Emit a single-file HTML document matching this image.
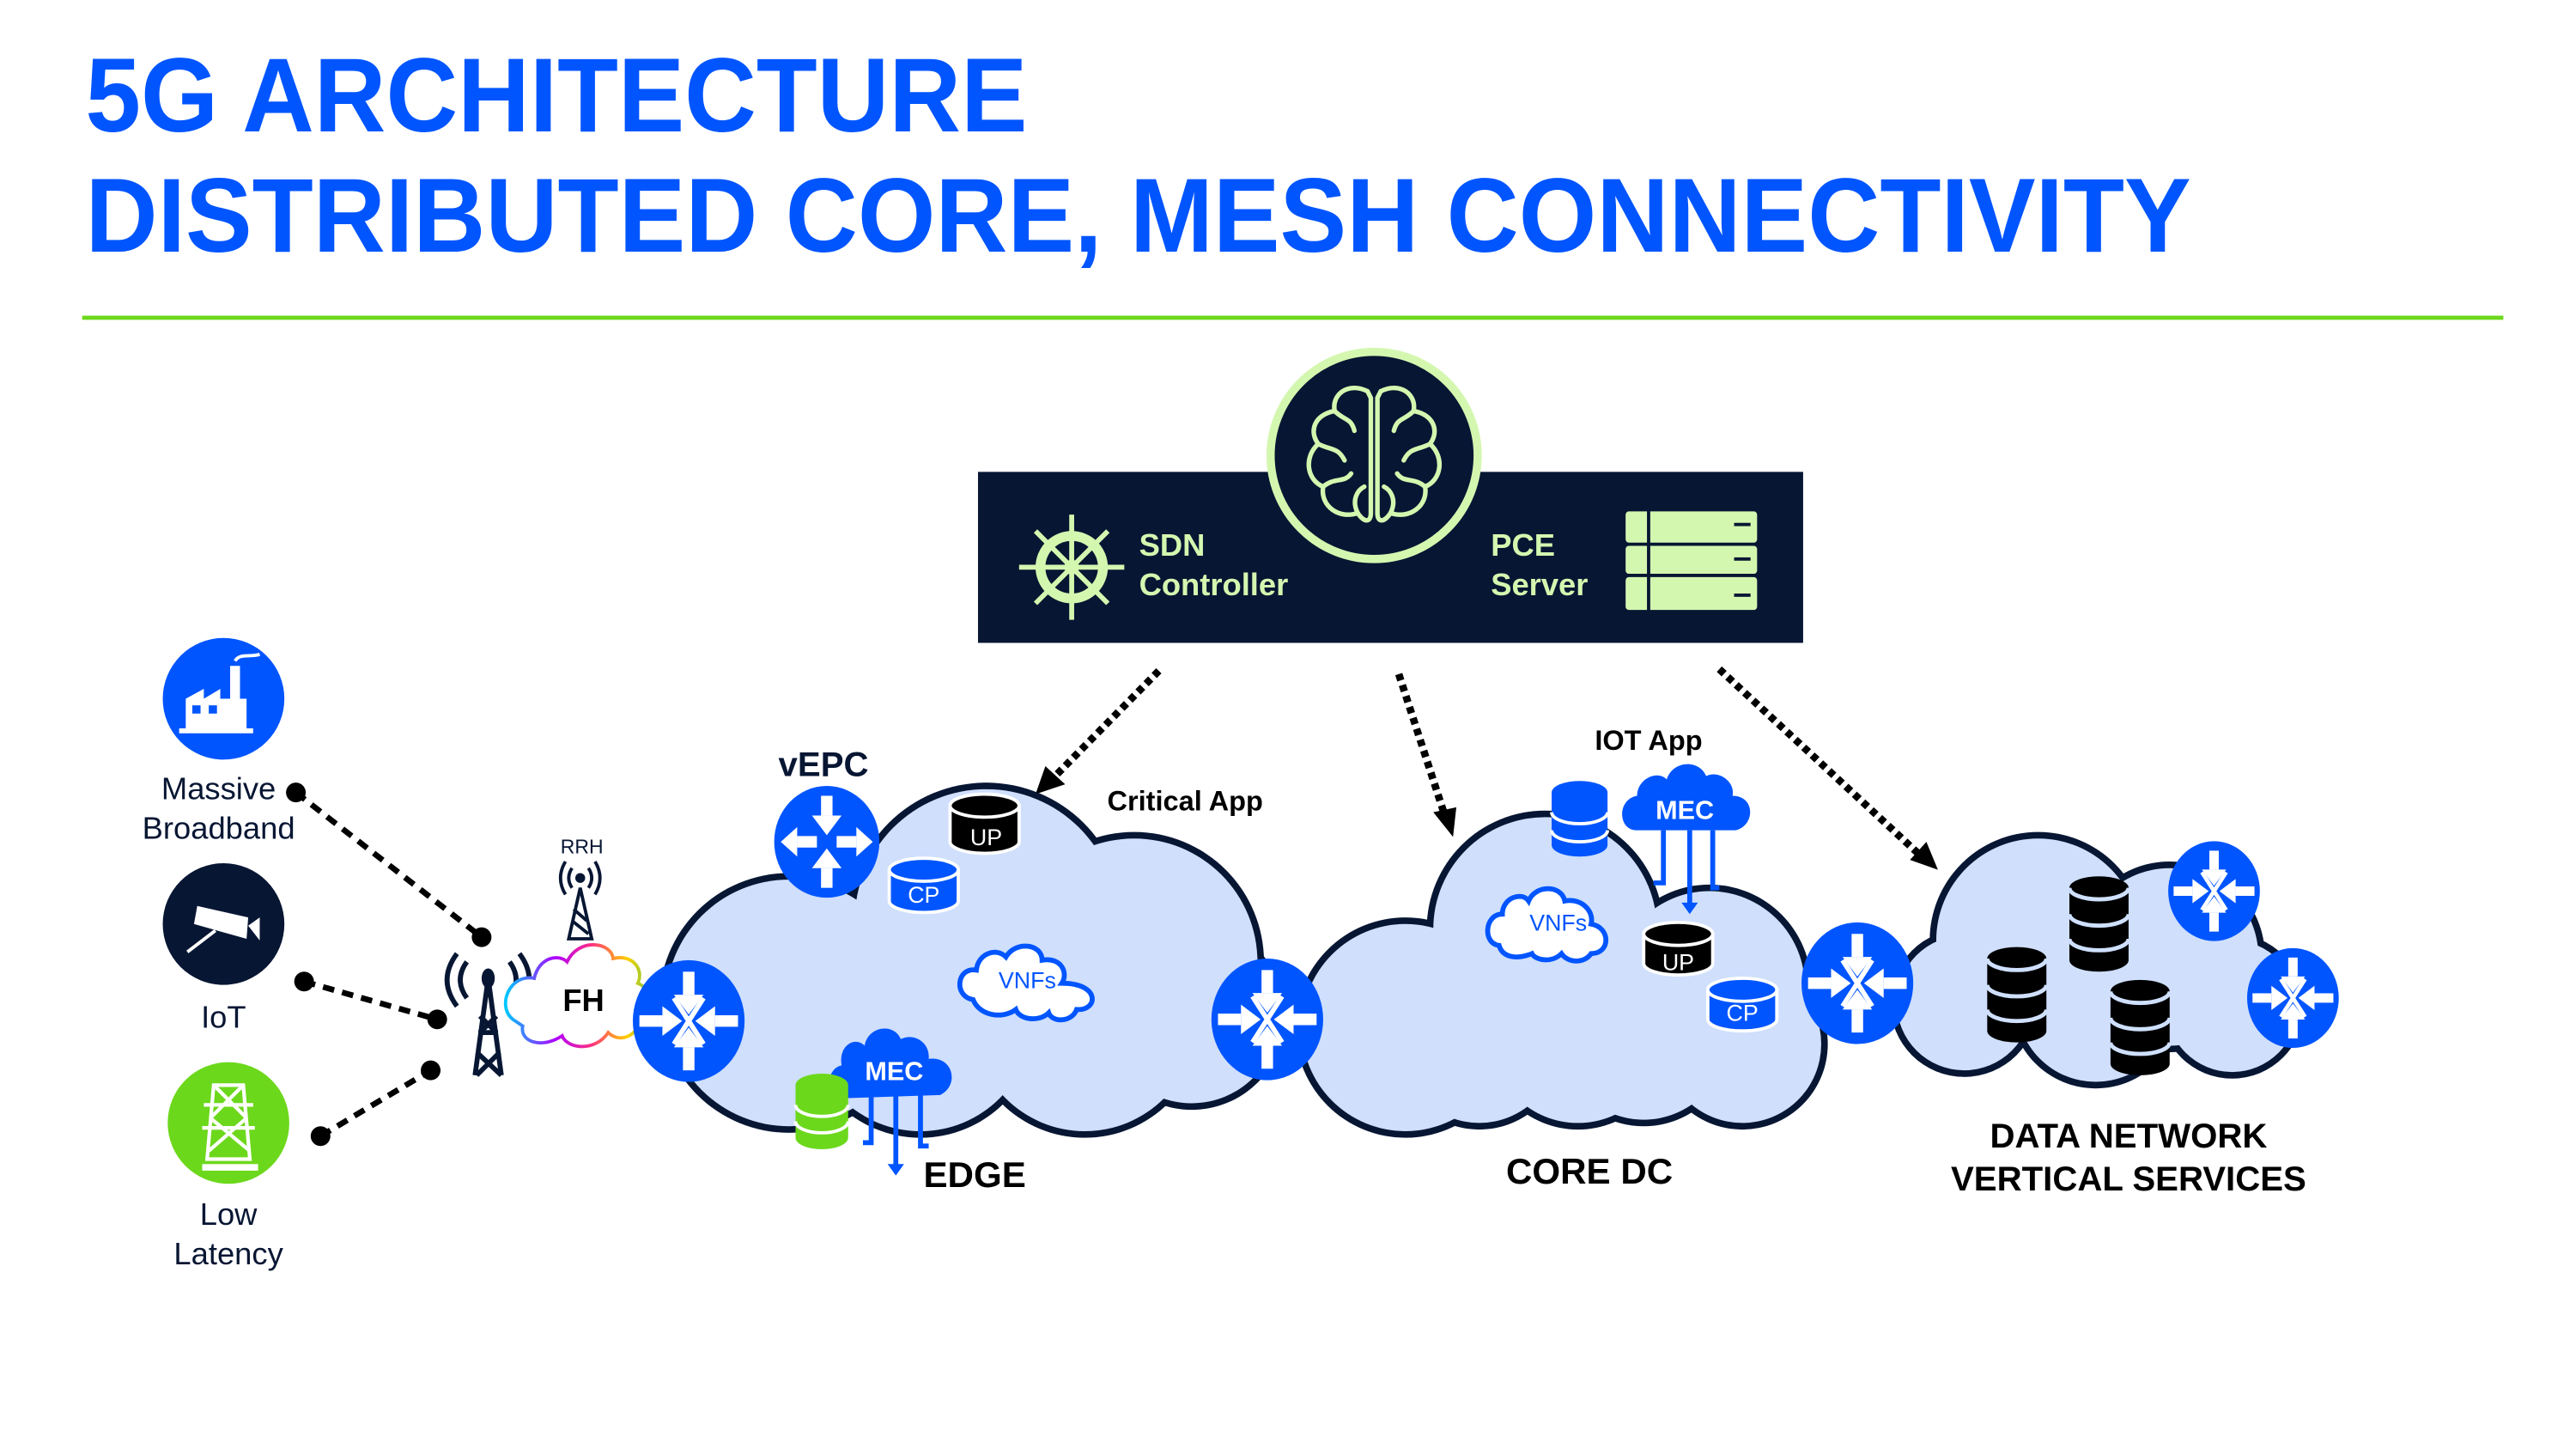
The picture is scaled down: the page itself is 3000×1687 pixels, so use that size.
<!DOCTYPE html>
<html><head><meta charset="utf-8"><style>
html,body{margin:0;padding:0;background:#fff;}
svg{display:block;}
text{font-family:"Liberation Sans",Arial,sans-serif;}
</style></head><body>
<svg width="3000" height="1687" viewBox="0 0 1567.2 881.3" xmlns="http://www.w3.org/2000/svg">
<defs>
  <g id="rx">
    <ellipse cx="0" cy="0" rx="34" ry="37" fill="#0055ff"/>
    <g fill="#fff" stroke="none">
      <rect x="-3.5" y="-30" width="7" height="14"/><polygon points="-9,-16 9,-16 0,-4"/>
      <rect x="-3.5" y="16" width="7" height="14"/><polygon points="-9,16 9,16 0,4"/>
      <rect x="-30" y="-3.5" width="14" height="7"/><polygon points="-16,-9 -16,9 -4,0"/>
      <rect x="16" y="-3.5" width="14" height="7"/><polygon points="16,-9 16,9 4,0"/>
    </g>
    <path d="M-9,-14 L9,14 M9,-14 L-9,14" stroke="#fff" stroke-width="3"/>
  </g>
  <g id="rout">
    <ellipse cx="0" cy="0" rx="32" ry="34" fill="#0055ff"/>
    <g fill="#fff">
      <rect x="-3.5" y="-28" width="7" height="12"/><polygon points="-9,-16 9,-16 0,-4"/>
      <rect x="-3.5" y="16" width="7" height="12"/><polygon points="-9,16 9,16 0,4"/>
      <rect x="-18" y="-3.5" width="12" height="7"/><polygon points="-18,-9 -18,9 -28,0"/>
      <rect x="6" y="-3.5" width="12" height="7"/><polygon points="18,-9 18,9 28,0"/>
    </g>
  </g>
  <g id="dbk">
    <path d="M-18,-14 L-18,30 A18,7 0 0 0 18,30 L18,-14 A18,7 0 0 0 -18,-14 Z" fill="#000"/>
    <path d="M-18,2 A18,7 0 0 0 18,2 M-18,17 A18,7 0 0 0 18,17 M-18,-14 A18,7 0 0 0 18,-14" fill="none" stroke="#cfe0ff" stroke-width="2.5"/>
  </g>
</defs>

<!-- Title -->
<text x="52" y="80" font-size="64" font-weight="bold" fill="#0055ff" textLength="573" lengthAdjust="spacingAndGlyphs">5G ARCHITECTURE</text>
<text x="52" y="153" font-size="64" font-weight="bold" fill="#0055ff" textLength="1281" lengthAdjust="spacingAndGlyphs">DISTRIBUTED CORE, MESH CONNECTIVITY</text>
<rect x="50" y="192" width="1473" height="2.5" fill="#6cd81c"/>

<!-- dark box -->
<rect x="595" y="287" width="502" height="104" fill="#071633"/>
<circle cx="836" cy="277" r="63" fill="#071633" stroke="#d4f7b0" stroke-width="5"/>
<g fill="none" stroke="#d4f7b0" stroke-width="2.8" stroke-linecap="round">
  <path d="M832,238 C820,232 810,240 812,250 C800,252 796,262 802,270 C793,278 795,292 805,296 C803,308 815,316 826,312 C830,318 834,318 834,312 L834,242 Z"/>
  <path d="M840,238 C852,232 862,240 860,250 C872,252 876,262 870,270 C879,278 877,292 867,296 C869,308 857,316 846,312 C842,318 838,318 838,312 L838,242 Z"/>
  <path d="M812,250 C818,256 822,254 824,262 M802,270 C810,274 814,272 818,280 M805,296 C812,290 818,294 822,288 M826,312 C822,304 826,298 830,296"/>
  <path d="M860,250 C854,256 850,254 848,262 M870,270 C862,274 858,272 854,280 M867,296 C860,290 854,294 850,288 M846,312 C850,304 846,298 842,296"/>
</g>
<g stroke="#d4f7b0" fill="none">
  <circle cx="652" cy="345" r="19" stroke-width="6"/>
  <circle cx="652" cy="345" r="4" fill="#d4f7b0"/>
  <path d="M652,313 L652,377 M620,345 L684,345 M630,323 L674,367 M674,323 L630,367" stroke-width="3"/>
</g>
<text x="693" y="338" font-size="19" font-weight="bold" fill="#d4f7b0">SDN</text>
<text x="693" y="362" font-size="19" font-weight="bold" fill="#d4f7b0">Controller</text>
<text x="907" y="338" font-size="19" font-weight="bold" fill="#d4f7b0">PCE</text>
<text x="907" y="362" font-size="19" font-weight="bold" fill="#d4f7b0">Server</text>
<g fill="#d4f7b0">
  <rect x="989" y="311" width="80" height="19" rx="2"/>
  <rect x="989" y="332" width="80" height="17" rx="2"/>
  <rect x="989" y="351" width="80" height="20" rx="2"/>
</g>
<g fill="#071633"><rect x="1002" y="310" width="2" height="62"/><rect x="1055" y="318" width="10" height="2"/><rect x="1055" y="339" width="10" height="2"/><rect x="1055" y="361" width="10" height="2"/></g>

<!-- dotted arrows -->
<g stroke="#000" stroke-width="4.5" stroke-dasharray="4 3" fill="none">
  <line x1="705" y1="408" x2="640" y2="474"/>
  <line x1="851" y1="410" x2="879" y2="496"/>
  <line x1="1046" y1="407" x2="1168" y2="520"/>
</g>
<polygon points="630,483 636,466 648,477" fill="#000"/>
<polygon points="884,509 872,494 886,491" fill="#000"/>
<polygon points="1179,529 1162,523 1172,512" fill="#000"/>

<!-- Edge cloud -->
<g fill="#071633">
  <circle cx="600" cy="560" r="84"/><circle cx="690" cy="585" r="79"/><circle cx="480" cy="610" r="79"/>
  <circle cx="560" cy="620" r="72"/><circle cx="660" cy="620" r="72"/><circle cx="725" cy="618" r="57"/>
</g>
<g fill="#cfdffc">
  <circle cx="600" cy="560" r="80"/><circle cx="690" cy="585" r="75"/><circle cx="480" cy="610" r="75"/>
  <circle cx="560" cy="620" r="68"/><circle cx="660" cy="620" r="68"/><circle cx="725" cy="618" r="53"/>
</g>
<!-- Core cloud -->
<g fill="#071633">
  <circle cx="940" cy="565" r="72"/><circle cx="855" cy="625" r="67"/><circle cx="1040" cy="600" r="62"/>
  <circle cx="1060" cy="635" r="52"/><circle cx="960" cy="630" r="57"/><circle cx="900" cy="635" r="52"/><circle cx="1000" cy="630" r="55"/>
</g>
<g fill="#cfdffc">
  <circle cx="940" cy="565" r="68"/><circle cx="855" cy="625" r="63"/><circle cx="1040" cy="600" r="58"/>
  <circle cx="1060" cy="635" r="48"/><circle cx="960" cy="630" r="53"/><circle cx="900" cy="635" r="48"/><circle cx="1000" cy="630" r="51"/>
</g>
<!-- Data cloud -->
<g fill="#071633">
  <circle cx="1240" cy="572" r="66"/><circle cx="1195" cy="610" r="45"/><circle cx="1320" cy="582" r="58"/>
  <circle cx="1358" cy="612" r="44"/><circle cx="1275" cy="610" r="52"/>
</g>
<g fill="#cfdffc">
  <circle cx="1240" cy="572" r="62"/><circle cx="1195" cy="610" r="41"/><circle cx="1320" cy="582" r="54"/>
  <circle cx="1358" cy="612" r="40"/><circle cx="1275" cy="610" r="48"/>
</g>

<!-- Left icons -->
<circle cx="136" cy="425" r="37" fill="#0055ff"/>
<path d="M113,444 L113,425 L124,419 L124,425 L134,419 L134,425 L140,425 L140,405 L146,405 L146,425 L150,425 L150,444 Z" fill="#fff"/>
<rect x="109" y="443" width="45" height="3" fill="#fff"/>
<rect x="117" y="429" width="5" height="5" fill="#0055ff"/><rect x="127" y="429" width="5" height="5" fill="#0055ff"/>
<path d="M143,402 C146,397 152,400 158,398" stroke="#fff" stroke-width="2" fill="none"/>
<circle cx="136" cy="562" r="37" fill="#071633"/>
<path d="M118,562 L150,571 L151,558 L120,551 Z" fill="#fff"/>
<path d="M151,563 L158,558 L158,572 Z" fill="#fff"/>
<line x1="131" y1="566" x2="114" y2="579" stroke="#fff" stroke-width="2"/>
<circle cx="139" cy="683" r="37" fill="#6cd81c"/>
<g stroke="#fff" stroke-width="2.2" fill="none">
  <path d="M130,660 L148,660 L152,705 L126,705 Z M130,660 L150,680 M148,660 L128,680 M128,680 L152,700 M150,680 L127,700 M124,672 L154,672 M123,686 L155,686"/>
</g>
<rect x="123" y="708" width="34" height="4" fill="#fff"/>
<g font-size="19" fill="#071633" text-anchor="middle">
  <text x="133" y="486">Massive</text><text x="133" y="510">Broadband</text>
  <text x="136" y="625">IoT</text>
  <text x="139" y="745">Low</text><text x="139" y="769">Latency</text>
</g>
<g stroke="#000" stroke-width="3.5" stroke-dasharray="7 5" fill="none">
  <line x1="180" y1="482" x2="293" y2="570"/>
  <line x1="185" y1="597" x2="266" y2="620"/>
  <line x1="195" y1="691" x2="262" y2="651"/>
</g>
<g fill="#000">
  <circle cx="180" cy="482" r="6"/><circle cx="293" cy="570" r="6"/>
  <circle cx="185" cy="597" r="6"/><circle cx="266" cy="620" r="6"/>
  <circle cx="195" cy="691" r="6"/><circle cx="262" cy="651" r="6"/>
</g>
<g stroke="#071633" stroke-width="3" fill="none">
  <path d="M289,654 L297,595 L305,654 M291,628 L303,628 M290,640 L305,654 M304,640 L290,654 M292,618 L302,628 M302,618 L292,628"/>
  <path d="M284,585 Q276,596 284,607 M278,580 Q266,596 278,612 M310,585 Q318,596 310,607 M316,580 Q328,596 316,612"/>
</g>
<ellipse cx="297" cy="595" rx="4" ry="6" fill="#071633"/>
<text x="354" y="519" font-size="12" fill="#071633" text-anchor="middle">RRH</text>
<g stroke="#071633" stroke-width="2" fill="none">
  <path d="M346,571 L353,540 L360,571 Z M348,560 L358,568 M349,553 L357,560"/>
  <path d="M348,528 Q344,534 348,540 M358,528 Q362,534 358,540 M344,524 Q338,534 344,544 M362,524 Q368,534 362,544"/>
</g>
<circle cx="353" cy="534" r="3" fill="#071633"/>
<defs><linearGradient id="rb" x1="0" x2="1"><stop offset="0" stop-color="#00c8ff"/><stop offset="0.35" stop-color="#b000ff"/><stop offset="0.6" stop-color="#ff3080"/><stop offset="0.85" stop-color="#ffd000"/><stop offset="1" stop-color="#7ac943"/></linearGradient></defs>
<path d="M312,620 C302,612 310,592 325,595 C328,582 340,580 345,585 C352,570 372,573 373,583 C385,580 392,590 388,598 C398,602 396,615 388,616 C392,628 378,636 370,628 C362,640 345,638 342,630 C330,638 316,634 318,624 Z" fill="#fff" stroke="url(#rb)" stroke-width="2"/>
<text x="355" y="615" font-size="19" font-weight="bold" fill="#000" text-anchor="middle">FH</text>

<use href="#rout" x="503" y="512"/>
<use href="#rx" x="419" y="621"/>
<use href="#rx" x="771" y="620"/>
<use href="#rx" x="1130" y="598"/>
<g transform="translate(1347,542) scale(0.82)"><use href="#rx"/></g>
<g transform="translate(1395,607) scale(0.82)"><use href="#rx"/></g>

<text x="501" y="472" font-size="21" font-weight="bold" fill="#071633" text-anchor="middle">vEPC</text>
<text x="721" y="493" font-size="17" font-weight="bold" fill="#000" text-anchor="middle">Critical App</text>
<g>
  <path d="M578,490 L578,512 A21,7 0 0 0 620,512 L620,490 Z" fill="#000" stroke="#fff" stroke-width="2"/>
  <ellipse cx="599" cy="490" rx="21" ry="7" fill="#000" stroke="#fff" stroke-width="2"/>
  <text x="600" y="514" font-size="14" fill="#fff" text-anchor="middle">UP</text>
</g>
<g>
  <path d="M541,529 L541,548 A21,7 0 0 0 583,548 L583,529 Z" fill="#0055ff" stroke="#fff" stroke-width="2"/>
  <ellipse cx="562" cy="529" rx="21" ry="7" fill="#0055ff" stroke="#fff" stroke-width="2"/>
  <text x="562" y="549" font-size="14" fill="#fff" text-anchor="middle">CP</text>
</g>
<path d="M592,608 C580,606 582,588 594,590 C595,580 606,576 612,582 C618,572 634,574 634,584 C646,582 650,592 646,598 C670,598 668,615 655,614 C652,622 640,622 638,616 C632,622 620,620 618,614 C610,620 596,618 592,608 Z" fill="#fff" stroke="#0055ff" stroke-width="3"/>
<text x="625" y="601" font-size="14" fill="#0055ff" text-anchor="middle">VNFs</text>
<path d="M512,668 C502,668 502,650 512,648 C510,636 520,630 526,636 C528,624 544,622 548,632 C556,628 566,634 565,644 C580,642 584,660 572,666 Z" fill="#0055ff"/>
<text x="544" y="657" font-size="16" font-weight="bold" fill="#fff" text-anchor="middle">MEC</text>
<g stroke="#0055ff" stroke-width="3" fill="none"><path d="M530,666 L530,695 L525,695 M545,666 L545,710 M560,666 L560,697 L565,697"/></g>
<polygon points="540,708 550,708 545,715" fill="#0055ff"/>
<path d="M484,660 L484,692 A16,7 0 0 0 516,692 L516,660 A16,7 0 0 0 484,660 Z" fill="#6cd81c"/>
<path d="M484,672 A16,7 0 0 0 516,672 M484,682 A16,7 0 0 0 516,682" fill="none" stroke="#fff" stroke-width="2"/>
<text x="593" y="722" font-size="22" font-weight="bold" fill="#000" text-anchor="middle">EDGE</text>

<text x="1003" y="456" font-size="17" font-weight="bold" fill="#000" text-anchor="middle">IOT App</text>
<path d="M944,482 L944,514 A17,7 0 0 0 978,514 L978,482 A17,7 0 0 0 944,482 Z" fill="#0055ff"/>
<path d="M944,494 A17,7 0 0 0 978,494 M944,505 A17,7 0 0 0 978,505" fill="none" stroke="#fff" stroke-width="2"/>
<path d="M995,505 C984,504 984,486 996,484 C996,474 1008,468 1014,474 C1018,462 1034,462 1038,472 C1046,468 1056,476 1054,484 C1068,484 1068,502 1056,505 Z" fill="#0055ff"/>
<text x="1025" y="498" font-size="16" font-weight="bold" fill="#fff" text-anchor="middle">MEC</text>
<g stroke="#0055ff" stroke-width="3" fill="none"><path d="M1012,505 L1012,537 L1006,537 M1028,505 L1028,550 M1042,505 L1042,540 L1046,540"/></g>
<polygon points="1023,549 1033,549 1028,556" fill="#0055ff"/>
<path d="M912,575 C902,574 903,556 914,556 C914,546 926,542 930,548 C934,538 950,538 952,548 C962,546 970,554 968,562 C980,564 980,580 968,580 C964,586 954,586 950,580 C944,586 934,584 932,580 C922,584 914,582 912,575 Z" fill="#fff" stroke="#0055ff" stroke-width="3"/>
<text x="948" y="566" font-size="14" fill="#0055ff" text-anchor="middle">VNFs</text>
<g>
  <path d="M1000,568 L1000,586 A21,7 0 0 0 1042,586 L1042,568 Z" fill="#000" stroke="#fff" stroke-width="2"/>
  <ellipse cx="1021" cy="568" rx="21" ry="7" fill="#000" stroke="#fff" stroke-width="2"/>
  <text x="1021" y="590" font-size="14" fill="#fff" text-anchor="middle">UP</text>
</g>
<g>
  <path d="M1039,602 L1039,620 A21,7 0 0 0 1081,620 L1081,602 Z" fill="#0055ff" stroke="#fff" stroke-width="2"/>
  <ellipse cx="1060" cy="602" rx="21" ry="7" fill="#0055ff" stroke="#fff" stroke-width="2"/>
  <text x="1060" y="621" font-size="14" fill="#fff" text-anchor="middle">CP</text>
</g>
<text x="967" y="720" font-size="22" font-weight="bold" fill="#000" text-anchor="middle">CORE DC</text>

<use href="#dbk" x="1277" y="554"/>
<use href="#dbk" x="1227" y="597"/>
<use href="#dbk" x="1302" y="617"/>
<text x="1295" y="698" font-size="21" font-weight="bold" fill="#000" text-anchor="middle">DATA NETWORK</text>
<text x="1295" y="724" font-size="21" font-weight="bold" fill="#000" text-anchor="middle">VERTICAL SERVICES</text>
</svg>
</body></html>
